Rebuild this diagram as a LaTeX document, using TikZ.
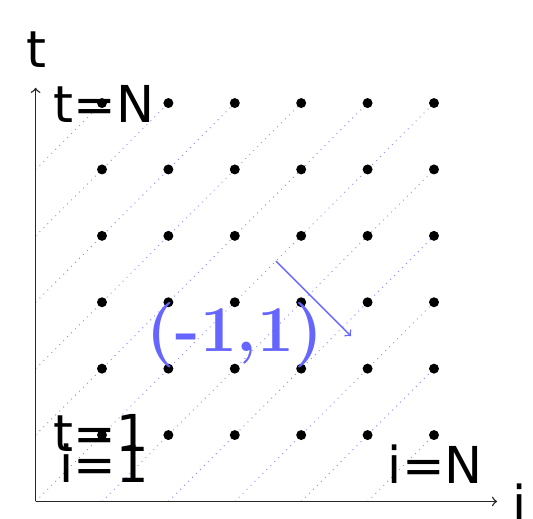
\documentclass[tikz,border=0pt]{standalone}
\usepackage{fontspec}
\newfontfamily\labfont{DejaVu Sans}
\definecolor{lblue}{RGB}{102,102,255}
\begin{document}
\begin{tikzpicture}[
  dotpt/.style={circle,fill=black,inner sep=0pt,minimum size=0.15cm},
  axis/.style={semithick,black!85,->},
  diag/.style={lblue!75,dotted,line width=0.4pt},
  lab/.style={font=\labfont\fontsize{21.8}{26}\selectfont,inner sep=0pt,anchor=base west},
  vec/.style={lblue,semithick,->},
  veclab/.style={lblue,font=\fontsize{28}{34}\selectfont\bfseries}
]
\useasboundingbox (-0.536,-0.264) rectangle (7.491,7.552);
% diagonal dotted lines
\foreach \c in {-5,...,0} {
  \draw[diag] (0,-\c) -- ({6+\c},6);
}
\foreach \c in {1,...,5} {
  \draw[diag] (\c,0) -- (6,{6-\c});
}
% axes
\coordinate (o) at (0,0);
\coordinate (tend) at (0,6.23);
\coordinate (iend) at (6.95,0);
\draw[axis] (o) -- (tend);
\draw[axis] (o) -- (iend);
% dots
\foreach \i in {1,...,6} {
  \foreach \t in {1,...,6} {
    \node[dotpt] (p\i\t) at (\i,\t) {};
  }
}
% labels
\node[lab] (tN) at (0.27,5.70) {t=N};
\node[lab] (t1) at (0.27,0.745) {t=1};
\node[lab] (i1) at (0.35,0.29) {i=1};
\node[lab] (iN) at (5.30,0.277) {i=N};
\node[lab] (tax) at (-0.145,6.53) {t};
\node[lab] (iax) at (7.18,-0.32) {i};
% vector
\coordinate (va) at (3.62,3.62);
\coordinate (vb) at (4.75,2.49);
\draw[vec] (va) -- (vb);
\node[veclab] (vl) at (3.0,2.5) {(-1,1)};
\end{tikzpicture}
\end{document}
